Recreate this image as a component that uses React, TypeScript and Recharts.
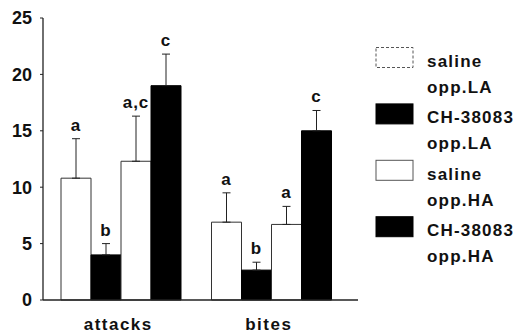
import { BarChart, Bar, XAxis, YAxis, Legend, ErrorBar } from 'recharts';

const categories = ['attacks', 'bites'];

const seriesNames = ['saline opp.LA', 'CH-38083 opp.LA', 'saline opp.HA', 'CH-38083 opp.HA'];
const salineLA = [10.8, 6.9];
const chLA = [4.0, 2.65];
const salineHA = [12.3, 6.7];
const chHA = [19.0, 15.0];

const salineLAErr = [3.5, 2.6];
const chLAErr = [1.0, 0.7];
const salineHAErr = [4.0, 1.6];
const chHAErr = [2.8, 1.8];

const salineLALetters = ['a', 'a'];
const chLALetters = ['b', 'b'];
const salineHALetters = ['a,c', 'a'];
const chHALetters = ['c', 'c'];

const yTicks = [0, 5, 10, 15, 20, 25];

const FONT = '"Liberation Sans", Arial, Helvetica, sans-serif';

const data = categories.map((name, i) => ({
  name,
  sLA: salineLA[i],
  cLA: chLA[i],
  sHA: salineHA[i],
  cHA: chHA[i],
  sLAErr: [0, salineLAErr[i]],
  cLAErr: [0, chLAErr[i]],
  sHAErr: [0, salineHAErr[i]],
  cHAErr: [0, chHAErr[i]],
}));

function letterLabel(letters: string[], errs: number[]) {
  return (props: any) => {
    const { x, y, width, height, value, index } = props;
    const errPx = value > 0 ? (errs[index] * height) / value : 0;
    return (
      <text
        x={x + width / 2}
        y={y - errPx - 8}
        textAnchor="middle"
        fontFamily={FONT}
        fontWeight="bold"
        fontSize={17}
        letterSpacing={1}
        fill="#111"
      >
        {letters[index]}
      </text>
    );
  };
}

function LegendContent(props: any) {
  const items = [...(props.payload || [])].sort(
    (a: any, b: any) => seriesNames.indexOf(a.value) - seriesNames.indexOf(b.value)
  );
  return (
    <svg width={142} height={240} style={{ display: 'block' }}>
      {items.map((entry: any, i: number) => {
        const top = i * 56.4;
        const lines = String(entry.value).split(' ');
        const white = entry.color === '#ffffff';
        return (
          <g key={i}>
            <rect
              x={1}
              y={top + 0.5}
              width={37}
              height={20}
              fill={entry.color}
              stroke={white ? '#555' : '#000'}
              strokeWidth={1}
              strokeDasharray={white && i === 0 ? '3 2' : undefined}
            />
            {lines.map((ln, k) => (
              <text
                key={k}
                x={52}
                y={top + 20 + k * 26}
                fontFamily={FONT}
                fontWeight="bold"
                fontSize={17}
                letterSpacing={1.2}
                fill="#111"
              >
                {ln}
              </text>
            ))}
          </g>
        );
      })}
    </svg>
  );
}

export default function App() {
  return (
    <div style={{ position: 'absolute', left: 0, top: 0, background: '#fff' }}>
      <BarChart
        width={517}
        height={335}
        data={data}
        margin={{ top: 18, right: 159, bottom: 0, left: 0 }}
        barGap={0}
        barSize={30}
      >
        <XAxis
          dataKey="name"
          padding={{ left: 3, right: 11 }}
          axisLine={{ stroke: '#222', strokeWidth: 1.3 }}
          tickLine={false}
          tickSize={0}
          tickMargin={18}
          height={35}
          tick={{ fontSize: 17, fontWeight: 'bold', fill: '#111', fontFamily: FONT, letterSpacing: 1.5, dx: -3 }}
        />
        <YAxis
          domain={[0, 25]}
          ticks={yTicks}
          width={43}
          axisLine={{ stroke: '#222', strokeWidth: 1.3 }}
          tickLine={{ stroke: '#222' }}
          tickSize={3}
          tickMargin={8}
          tick={{ fontSize: 18, fontWeight: 'bold', fill: '#111', fontFamily: FONT }}
        />
        <Legend
          layout="vertical"
          align="center"
          verticalAlign="middle"
          wrapperStyle={{ left: 375, top: 47, width: 142 }}
          content={LegendContent}
        />
        <Bar dataKey="sLA" name={seriesNames[0]} fill="#ffffff" stroke="#333" strokeWidth={1} isAnimationActive={false} label={letterLabel(salineLALetters, salineLAErr)}>
          <ErrorBar dataKey="sLAErr" width={4} stroke="#222" strokeWidth={1} direction="y" />
        </Bar>
        <Bar dataKey="cLA" name={seriesNames[1]} fill="#000000" stroke="#000" strokeWidth={1} isAnimationActive={false} label={letterLabel(chLALetters, chLAErr)}>
          <ErrorBar dataKey="cLAErr" width={4} stroke="#222" strokeWidth={1} direction="y" />
        </Bar>
        <Bar dataKey="sHA" name={seriesNames[2]} fill="#ffffff" stroke="#333" strokeWidth={1} isAnimationActive={false} label={letterLabel(salineHALetters, salineHAErr)}>
          <ErrorBar dataKey="sHAErr" width={4} stroke="#222" strokeWidth={1} direction="y" />
        </Bar>
        <Bar dataKey="cHA" name={seriesNames[3]} fill="#000000" stroke="#000" strokeWidth={1} isAnimationActive={false} label={letterLabel(chHALetters, chHAErr)}>
          <ErrorBar dataKey="cHAErr" width={4} stroke="#222" strokeWidth={1} direction="y" />
        </Bar>
      </BarChart>
    </div>
  );
}
